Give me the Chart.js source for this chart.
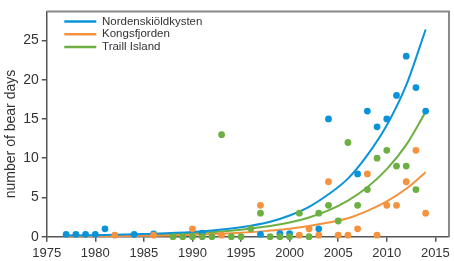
<!DOCTYPE html>
<html><head><meta charset="utf-8">
<script src="https://cdn.jsdelivr.net/npm/chart.js@4/dist/chart.umd.min.js"></script>
<style>html,body{margin:0;padding:0;background:#fff}#wrap{width:454px;height:261px;position:relative}</style>
</head><body><div id="wrap"><canvas id="c" width="454" height="261"></canvas></div>
<script>
// ---- data ----
const seriesNames = ['Nordenskiöldkysten', 'Kongsfjorden', 'Traill Island'];
const yAxisTitle = 'number of bear days';
const xTickLabels = [1975, 1980, 1985, 1990, 1995, 2000, 2005, 2010, 2015];
const yTickLabels = [0, 5, 10, 15, 20, 25];

const nordYears  = [1977,1978,1979,1980,1981,1984,1986,1991,1997,1999,2000,2003,2004,2007,2008,2009,2010,2011,2012,2013,2014];
const nordValues = [0.3, 0.3, 0.3, 0.3, 1.0, 0.3, 0.35,0.45,0.3, 0.4, 0.4, 1.0, 15,  8,   16,  14,  15,  18,  23,  19,  16];

const kongYears  = [1982,1986,1990,1993,1997,2001,2002,2003,2004,2005,2006,2007,2008,2009,2010,2011,2012,2013,2014];
const kongValues = [0.2, 0.2, 1.0, 0.2, 4,   0.2, 1.0, 0.2, 7,   0.2, 0.2, 1.0, 8,   0.2, 4,   4,   7,   11,  3];

const trailYears  = [1988,1989,1990,1991,1992,1993,1994,1995,1996,1997,1998,1999,2000,2001,2002,2003,2004,2005,2006,2007,2008,2009,2010,2011,2012,2013];
const trailValues = [0,   0,   0,   0,   0,   13,  0,   0,   1,   3,   0,   0,   0,   3,   0,   3,   4,   2,   12,  4,   6,   10,  11,  9,   9,   6];

// fitted curves
const fitYears  = [1977, 1980, 1985, 1990, 1995, 1998, 2000, 2002, 2004, 2006, 2008, 2010, 2012, 2014];
const nordFit   = [0.15, 0.2,  0.35, 0.6,  1.2,  1.9,  2.7,  3.8,  5.4,  7.4,  10.4, 14.2, 19.3, 26.4];
const kongFit   = [0.03, 0.05, 0.12, 0.25, 0.5,  0.78, 1.0,  1.35, 1.8,  2.35, 3.3,  4.5,  6.1,  8.2];
const trailFit  = [0.08, 0.12, 0.22, 0.45, 0.9,  1.35, 1.8,  2.45, 3.35, 4.6,  6.3,  8.6,  11.7, 15.9];

// ---- styles ----
const colors = ['#0a93d9', '#f5923e', '#6cb043'];
const regular = "'Liberation Sans', Arial, sans-serif";
const textColor = '#333';
const axisColor = '#555';

const pts = (xs, ys) => xs.map((x, i) => ({x: x, y: ys[i]}));

function lineDs(name, xs, ys, c, order) {
  return {type: 'line', label: name, data: pts(xs, ys), borderColor: c, backgroundColor: c,
    borderWidth: 2, pointRadius: 0, pointHoverRadius: 0, fill: false,
    cubicInterpolationMode: 'monotone', order: order, clip: false};
}
function dotDs(name, xs, ys, c, order) {
  return {type: 'line', label: name, data: pts(xs, ys), showLine: false,
    pointRadius: 3.4, pointHoverRadius: 3.4, pointBackgroundColor: c, pointBorderWidth: 0,
    borderColor: c, backgroundColor: c, order: order, clip: false};
}

const extras = {
  id: 'extras',
  afterLayout(chart) {
    const lg = chart.legend;
    if (lg) { lg.left += 16.4; lg.right += 16.4; lg.top += 14.6; lg.bottom += 14.6; }
  },
  afterDraw(chart) {
    const {ctx, chartArea: a} = chart;
    ctx.save();
    ctx.strokeStyle = '#888';
    ctx.lineWidth = 2;
    ctx.beginPath();
    ctx.moveTo(a.left, a.top);
    ctx.lineTo(a.right, a.top);
    ctx.lineTo(a.right, a.bottom);
    ctx.stroke();
    ctx.translate(11, 134);
    ctx.rotate(-Math.PI / 2);
    ctx.fillStyle = textColor;
    ctx.font = '14px ' + regular;
    ctx.textAlign = 'center';
    ctx.textBaseline = 'middle';
    ctx.fillText(yAxisTitle, 0, 0);
    ctx.restore();
  }
};

new Chart(document.getElementById('c'), {
  data: {
    datasets: [
      lineDs(seriesNames[0], fitYears, nordFit, colors[0], 20),
      lineDs(seriesNames[1], fitYears, kongFit, colors[1], 21),
      lineDs(seriesNames[2], fitYears, trailFit, colors[2], 22),
      dotDs(seriesNames[0] + ' obs', nordYears, nordValues, colors[0], 3),
      dotDs(seriesNames[1] + ' obs', kongYears, kongValues, colors[1], 2),
      dotDs(seriesNames[2] + ' obs', trailYears, trailValues, colors[2], 1)
    ]
  },
  options: {
    responsive: false, animation: false, devicePixelRatio: 1,
    layout: {padding: {top: 3, right: 5, left: 0, bottom: 0}},
    plugins: {
      tooltip: {enabled: false},
      legend: {
        position: 'chartArea', align: 'start',
        labels: {
          boxWidth: 32, boxHeight: 2.5, padding: 1.2,
          font: {size: 11.5, family: regular}, color: textColor,
          generateLabels: () => seriesNames.map((n, i) => ({
            text: n, fillStyle: colors[i], strokeStyle: colors[i], lineWidth: 0,
            hidden: false, datasetIndex: i, fontColor: textColor
          }))
        }
      }
    },
    scales: {
      x: {
        type: 'linear', min: 1975, max: 2016.4,
        afterBuildTicks: s => { s.ticks = xTickLabels.map(v => ({value: v})); },
        afterFit: s => { s.height = 24.3; },
        ticks: {font: {size: 13, family: regular}, color: textColor, padding: 4, maxRotation: 0, autoSkip: false,
          callback: v => String(v)},
        grid: {display: true, drawOnChartArea: false, drawTicks: true, tickLength: 5, color: axisColor, lineWidth: 1.5},
        border: {display: true, color: axisColor, width: 1.5}
      },
      y: {
        type: 'linear', min: 0, max: 28.7,
        afterBuildTicks: s => { s.ticks = yTickLabels.map(v => ({value: v})); },
        afterFit: s => { s.width = 46.7; },
        ticks: {font: {size: 14, family: regular}, color: textColor, padding: 3, callback: v => String(v)},
        grid: {display: true, drawOnChartArea: false, drawTicks: true, tickLength: 5, color: axisColor, lineWidth: 1.5},
        border: {display: true, color: axisColor, width: 1.5}
      }
    }
  },
  plugins: [extras]
});
</script>
</body></html>
